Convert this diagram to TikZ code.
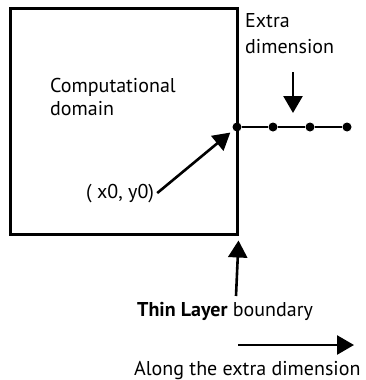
\documentclass[tikz,border=0pt]{standalone}
\usepackage{fontspec}
\setmainfont{PT Sans}
\usetikzlibrary{arrows.meta}
\tikzset{
    lbl/.style={font=\fontsize{20}{24}\selectfont, inner sep=0pt, align=left, anchor=base west},
    dot/.style={circle, fill, inner sep=0pt, minimum size=9pt},
    arr/.style={line width=2.6pt, -{Triangle[length=17pt,width=19pt]}}
}
\begin{document}
\begin{tikzpicture}[x=1pt,y=-1pt]
    \useasboundingbox (0,0) rectangle (365,380);
    \node[draw, line width=3pt, minimum width=227pt, minimum height=226pt, inner sep=0pt] (dom) at (123.5,121) {};
    \node[lbl] (domlbl) at (50,115) {Computational\\[-1pt]domain};
    \node[lbl] (xy) at (86,198) {( x0, y0)};

    % points along the extra dimension
    \node[dot] (p0) at (237,127) {};
    \node[dot] (p1) at (273,127) {};
    \node[dot] (p2) at (310,127) {};
    \node[dot] (p3) at (347,127) {};
    \draw[line width=2pt] (p0) -- (p1) -- (p2) -- (p3);

    \node[lbl] (extlbl) at (245,53) {Extra\\[2pt]dimension};
    \coordinate (exttop) at (293,72);
    \draw[arr] (exttop) -- (293,113);

    \draw[arr, shorten >=4pt] ([xshift=3pt]xy.east) -- (p0);

    \node[lbl] (bnd) at (137,316) {\textbf{Thin Layer} boundary};
    \coordinate (bndtop) at (236,296);
    \draw[arr] (bndtop) -- ([yshift=-5pt]dom.south east);

    \coordinate (along) at (238,345);
    \draw[arr] (along) -- (354,345);
    \node[lbl] (alonglbl) at (134,375) {Along the extra dimension};
\end{tikzpicture}
\end{document}
